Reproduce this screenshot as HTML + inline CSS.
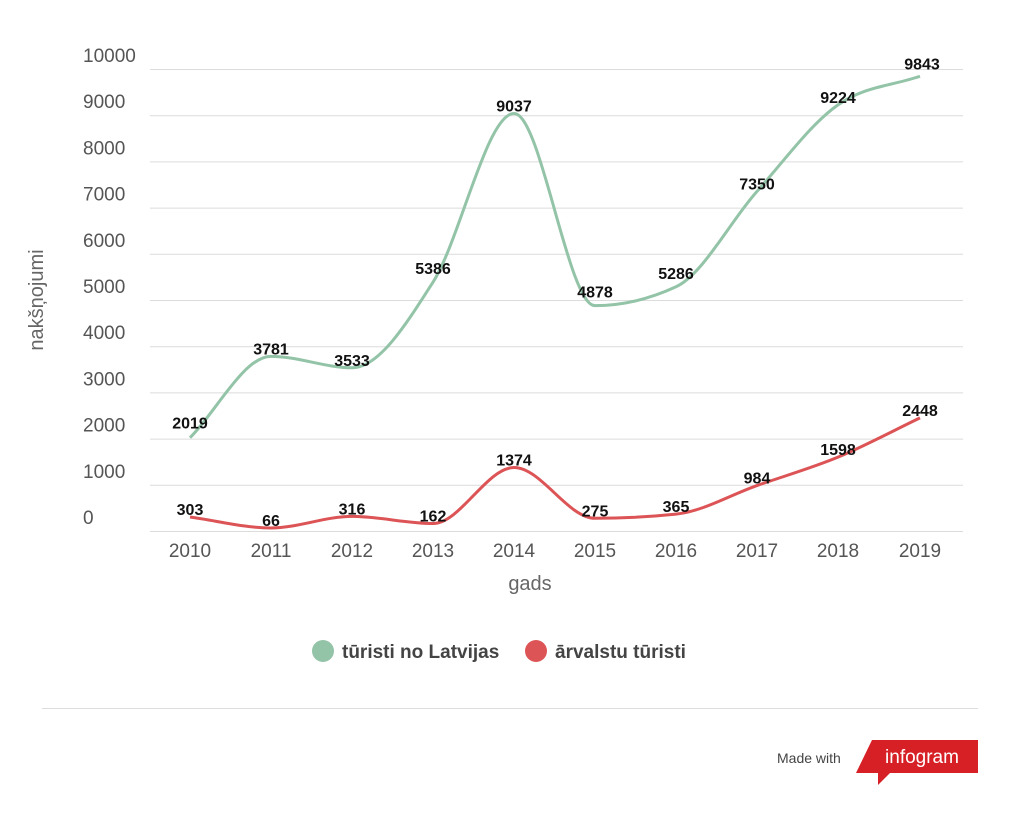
<!DOCTYPE html>
<html><head><meta charset="utf-8"><style>
body{margin:0;background:#fff;width:1021px;height:818px;overflow:hidden;font-family:"Liberation Sans",sans-serif}
</style></head><body>
<svg width="1021" height="818" xmlns="http://www.w3.org/2000/svg" font-family="Liberation Sans, sans-serif">
<g id="grid" stroke="#dcdcdc" stroke-width="1"></g>
<g id="yl" fill="#555" font-size="19"></g>
<g id="xl" fill="#555" font-size="19" text-anchor="middle"></g>
<text x="530" y="590" fill="#666" font-size="20" text-anchor="middle">gads</text>
<text transform="translate(43,300) rotate(-90)" fill="#666" font-size="20" text-anchor="middle">nakšņojumi</text>
<path id="g" fill="none" stroke="#93c4a8" stroke-width="3"/>
<path id="r" fill="none" stroke="#dc5456" stroke-width="3"/>
<g id="lab" fill="#111" font-size="16" font-weight="bold" text-anchor="middle"></g>
<circle cx="323" cy="651" r="11" fill="#93c4a8"/>
<text x="342" y="658" font-size="19" fill="#444" font-weight="bold">tūristi no Latvijas</text>
<circle cx="536" cy="651" r="11" fill="#dc5456"/>
<text x="555" y="658" font-size="19" fill="#444" font-weight="bold">ārvalstu tūristi</text>
<line x1="42" y1="708.5" x2="978" y2="708.5" stroke="#ddd"/>
<text x="777" y="763" font-size="14" fill="#444">Made with</text>
<path d="M872 740 L978 740 L978 773 L890 773 L878 785 L878 773 L856 773 Z" fill="#d71f26"/>
<text x="922" y="763" font-size="19" fill="#fff" text-anchor="middle">infogram</text>
</svg>
<script>
const ns="http://www.w3.org/2000/svg";
function el(p,t,a,txt){const e=document.createElementNS(ns,t);for(const k in a)e.setAttribute(k,a[k]);if(txt!=null)e.textContent=txt;document.getElementById(p).appendChild(e);}
const Y=v=>531-v*0.0462;
for(let i=0;i<=10;i++){const y=Y(i*1000);el("grid","line",{x1:150,x2:963,y1:y+0.5,y2:y+0.5});el("yl","text",{x:83,y:y-7},String(i*1000));}
const xs=[190,271,352,433,514,595,676,757,838,920];
xs.forEach((x,i)=>el("xl","text",{x:x,y:557},String(2010+i)));
const G=[2019,3781,3533,5386,9037,4878,5286,7350,9224,9843],R=[303,66,316,162,1374,275,365,984,1598,2448];
function mono(xv,yv){const n=xv.length,d=[],m=[];for(let i=0;i<n-1;i++)d.push((yv[i+1]-yv[i])/(xv[i+1]-xv[i]));
for(let i=0;i<n;i++){if(i==0)m.push(d[0]);else if(i==n-1)m.push(d[n-2]);else{if(d[i-1]*d[i]<=0)m.push(0);else{const h0=xv[i]-xv[i-1],h1=xv[i+1]-xv[i];const s=(d[i-1]*h1+d[i]*h0)/(h0+h1);m.push(Math.sign(s)*Math.min(Math.abs(s),2*Math.abs(d[i-1]),2*Math.abs(d[i])));}}}
let p="M"+xv[0]+" "+yv[0];for(let i=0;i<n-1;i++){const h=(xv[i+1]-xv[i])/3;p+=` C${xv[i]+h} ${yv[i]+m[i]*h} ${xv[i+1]-h} ${yv[i+1]-m[i+1]*h} ${xv[i+1]} ${yv[i+1]}`;}return p;}
document.getElementById("g").setAttribute("d",mono(xs,G.map(Y)));
document.getElementById("r").setAttribute("d",mono(xs,R.map(Y)));
const gx=[-7,0,0,-6,0,-6,-6,0,0,-5];
G.forEach((v,i)=>el("lab","text",{x:xs[i]+(i==9?2:0),y:Y(v)-2+gx[i]},String(v)));
R.forEach((v,i)=>el("lab","text",{x:xs[i],y:Y(v)-2},String(v)));
</script>
</body></html>
